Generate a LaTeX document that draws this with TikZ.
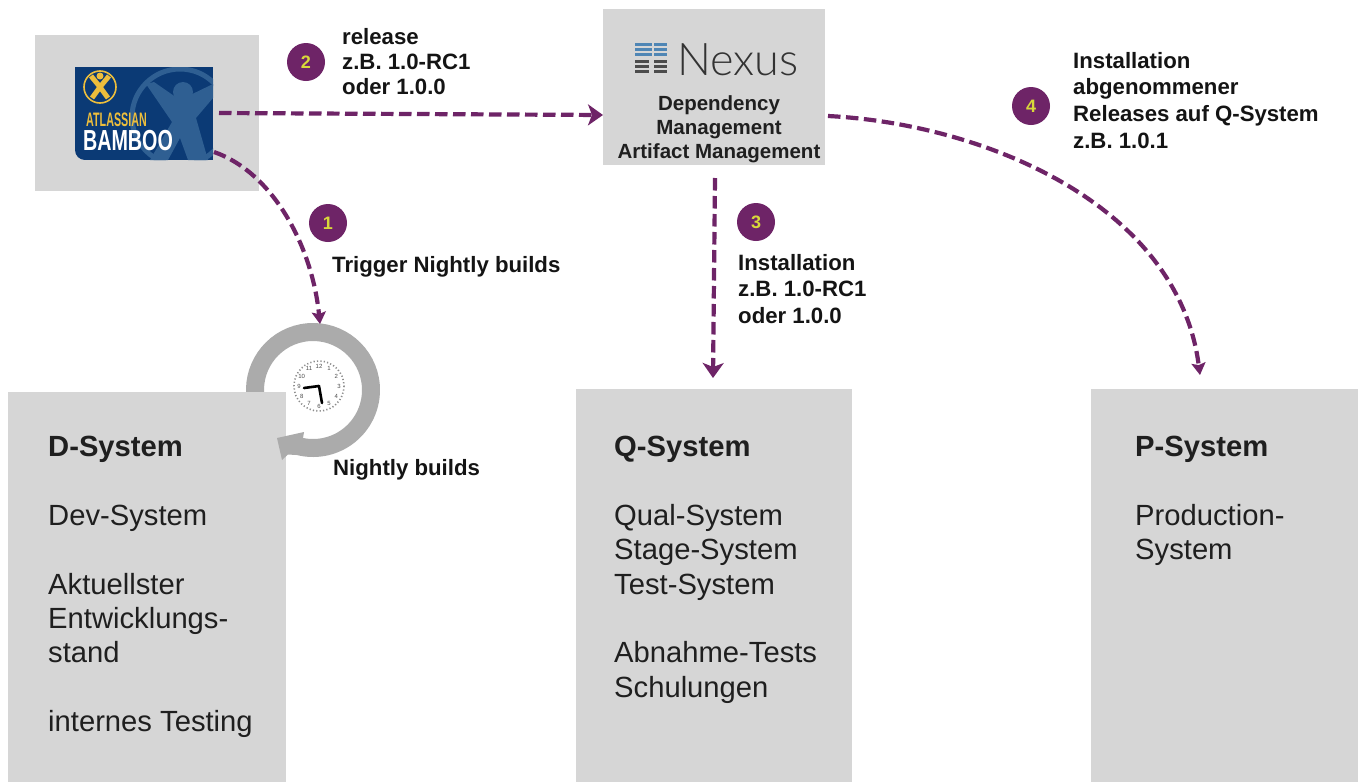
\documentclass[tikz,border=0pt]{standalone}
\usepackage{fontspec}
\setmainfont{Liberation Sans}
\newfontfamily\nexf{Lato Light}
\usetikzlibrary{arrows.meta,calc}
\definecolor{boxg}{HTML}{D6D6D6}
\definecolor{purp}{HTML}{6E2467}
\definecolor{yel}{HTML}{D8D83A}
\definecolor{ringg}{HTML}{ABABAB}
\definecolor{bblue}{HTML}{0B3A75}
\definecolor{bfig}{HTML}{2F5F92}
\definecolor{byel}{HTML}{EDBE3C}
\definecolor{nxblue}{HTML}{4F86B5}
\tikzset{
  graybox/.style={fill=boxg,draw=none,inner sep=0,anchor=north west},
  conn/.style={purp,line width=4.2pt,dash pattern=on 12.5pt off 5.5pt},
  bighead/.style={conn,-{Stealth[length=15pt,width=21pt,inset=4pt]}},
  smallhead/.style={conn,-{Stealth[length=12pt,width=14pt,inset=2pt]}},
  badge/.style={circle,fill=purp,minimum size=38pt,inner sep=0,text=yel,font=\bfseries\fontsize{18}{20}\selectfont},
  lab/.style={anchor=north west,inner sep=0,align=left,text=black!92,font=\bfseries\fontsize{22.2}{26.6}\selectfont},
  labtight/.style={lab,font=\bfseries\fontsize{22.2}{25}\selectfont},
  sys/.style={anchor=north west,inner sep=0,align=left,text=black!88,font=\fontsize{29.2}{34.4}\selectfont},
}
\begin{document}
\begin{tikzpicture}[x=1pt,y=-1pt]
\useasboundingbox (0,0) rectangle (1358,782);
\fill[white] (0,0) rectangle (1358,782);
% recurring ring, behind the D-System box
\draw[ringg,line width=18pt] (313,390) ++(175:58) arc[start angle=175,end angle=465,radius=58];
% boxes
\node[graybox,minimum width=224pt,minimum height=156pt] (bamboo) at (35,35) {};
\node[graybox,minimum width=222pt,minimum height=156pt] (nexus) at (603,9) {};
\node[graybox,minimum width=278pt,minimum height=390pt] (dsys) at (8,392) {};
\node[graybox,minimum width=276pt,minimum height=393pt] (qsys) at (576,389) {};
\node[graybox,minimum width=267pt,minimum height=393pt] (psys) at (1091,389) {};
% ring arrowhead, on top of the box
\fill[ringg] (277,438) -- (304,432) -- (303,438) -- (315,450) -- (296,455) -- (288,454.5) -- (282,460) -- cycle;
% clock
\fill[white] (319,386) circle[radius=27];
\draw[black!45,line width=1.6pt,dash pattern=on 1.2pt off 2.2pt] (319,386) circle[radius=25];
\foreach \a/\t in {270/12,300/1,330/2,0/3,30/4,60/5,90/6,120/7,150/8,180/9,210/10,240/11}{
  \node[inner sep=0,font=\fontsize{6}{6}\selectfont,text=black!70] at ($(319,386)+(\a:20)$) {\t};
}
\draw[black,line width=2.6pt,line cap=round] (319,386) -- (304,388);
\draw[black,line width=2.6pt,line cap=round] (319,386) -- (322,403);
% Bamboo logo
\begin{scope}
\path[clip] (75,67) -- (213,67) -- (213,160) -- (85,160) arc[start angle=90,end angle=180,radius=10] -- cycle;
\fill[bblue] (75,67) rectangle (213,160);
\draw[bfig,line width=5pt] (180,117) circle[radius=48];
\fill[bfig] (183,92) circle[radius=10];
\fill[bfig] (146,84) -- (154,82) -- (180,100) -- (213,84) -- (213,98) -- (196,118) -- (208,160) -- (188,160) -- (180,138) -- (168,160) -- (150,160) -- (172,122) -- cycle;
\end{scope}
\draw[byel,line width=1.6pt] (100,87) circle[radius=16];
\draw[byel,line width=5pt] (91,76) -- (100,87) -- (109,76);
\draw[byel,line width=5pt] (92,98) -- (100,87) -- (108,98);
\fill[byel] (100,76) circle[radius=3.5];
\node[inner sep=0,text=byel,font=\bfseries\fontsize{19.5}{20}\selectfont,xscale=.55] (atl) at (116.5,120) {ATLASSIAN};
\node[inner sep=0,text=white,font=\bfseries\fontsize{29}{29}\selectfont,xscale=.68] (bam) at (128,141) {BAMBOO};
% Nexus logo
\foreach \y in {43,48,53}{ \fill[nxblue] (635,\y) rectangle (651.5,\y+3.2); \fill[nxblue] (654,\y) rectangle (667,\y+3.2);}
\foreach \y in {60,65,70}{ \fill[black!70] (635,\y) rectangle (649,\y+3.4); \fill[black!70] (654,\y) rectangle (667,\y+3.4);}
\node[inner sep=0,anchor=base west,text=black!80,font=\nexf\fontsize{45}{45}\selectfont] (nx) at (677,75) {Nexus};
\node[inner sep=0,align=center,anchor=north,text=black!88,font=\bfseries\fontsize{20.5}{24.2}\selectfont] (nxt) at (719,95) {Dependency\\Management\\Artifact Management};
% connector ends
\coordinate (e1s) at (214,152);
\coordinate (e1e) at (320,324);
\coordinate (e2s) at (219,113);
\coordinate (e2e) at (603,115);
\coordinate (e3s) at (715,178);
\coordinate (e3e) at (713,378);
\coordinate (e4s) at (828,116);
\coordinate (e4e) at (1200,375);
\draw[smallhead] (e1s) .. controls (272,172) and (312,245) .. (e1e);
\draw[bighead] (e2s) -- (e2e);
\draw[bighead] (e3s) -- (e3e);
\draw[smallhead] (e4s) .. controls (985,124) and (1178,205) .. (e4e);
% badges
\node[badge] (b1) at (328,223) {1};
\node[badge] (b2) at (306,62) {2};
\node[badge] (b3) at (756,222) {3};
\node[badge] (b4) at (1031,106) {4};
% labels
\node[lab] (l1) at (332,256) {Trigger Nightly builds};
\node[labtight] (l2) at (342,28) {release\\z.B. 1.0-RC1\\oder 1.0.0};
\node[lab] (l3) at (738,254) {Installation\\z.B. 1.0-RC1\\oder 1.0.0};
\node[lab] (l4) at (1073,52) {Installation\\abgenommener\\Releases auf Q-System\\z.B. 1.0.1};
\node[lab] (l5) at (333,459) {Nightly builds};
% system texts
\node[sys] (dt) at (48,436) {\textbf{D-System}\\\mbox{}\\Dev-System\\\mbox{}\\Aktuellster\\Entwicklungs-\\stand\\\mbox{}\\internes Testing};
\node[sys] (qt) at (614,436) {\textbf{Q-System}\\\mbox{}\\Qual-System\\Stage-System\\Test-System\\\mbox{}\\Abnahme-Tests\\Schulungen};
\node[sys] (pt) at (1135,436) {\textbf{P-System}\\\mbox{}\\Production-\\System};
\end{tikzpicture}
\end{document}
